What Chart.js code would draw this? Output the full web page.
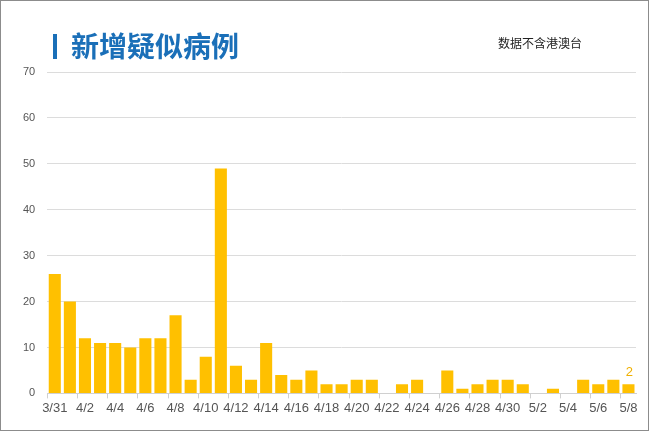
<!DOCTYPE html>
<html>
<head>
<meta charset="utf-8">
<script src="https://cdn.jsdelivr.net/npm/chart.js@4"></script>
<style>
  html, body { margin: 0; padding: 0; background: #fff; }
  #wrap { position: relative; width: 647px; height: 429px; border: 1px solid #8c8c8c; overflow: hidden; }
  #title { position: absolute; left: 52px; top: 26px; font: bold 28px "Noto Sans CJK SC", sans-serif; color: #1a6fb8; line-height: 36px; }
  #title .bar { display: inline-block; width: 4px; height: 25px; background: #1a6fb8; margin-right: 14px; vertical-align: -2px; }
  #note { position: absolute; left: 497px; top: 33px; font: 12px "Noto Sans CJK SC", sans-serif; color: #222; }
  canvas { position: absolute; left: 0; top: 0; }
</style>
</head>
<body>
<div id="wrap">
  <canvas id="c" width="647" height="429"></canvas>
  <div id="title"><span class="bar"></span>新增疑似病例</div>
  <div id="note">数据不含港澳台</div>
</div>
<script>
  const dates = ["3/31", "4/1", "4/2", "4/3", "4/4", "4/5", "4/6", "4/7", "4/8", "4/9", "4/10",
    "4/11", "4/12", "4/13", "4/14", "4/15", "4/16", "4/17", "4/18", "4/19", "4/20", "4/21",
    "4/22", "4/23", "4/24", "4/25", "4/26", "4/27", "4/28", "4/29", "4/30", "5/1", "5/2",
    "5/3", "5/4", "5/5", "5/6", "5/7", "5/8"];
  const suspected = [26, 20, 12, 11, 11, 10, 12, 12, 17, 3, 8,
    49, 6, 3, 11, 4, 3, 5, 2, 2, 3, 3,
    0, 2, 3, 0, 5, 1, 2, 3, 3, 2, 0,
    1, 0, 3, 2, 3, 2];
  const yTicks = [0, 10, 20, 30, 40, 50, 60, 70];

  // label on the last bar only
  const lastLabel = {
    id: "lastLabel",
    afterDatasetsDraw(chart) {
      const meta = chart.getDatasetMeta(0);
      const i = suspected.length - 1;
      const el = meta.data[i];
      const ctx = chart.ctx;
      ctx.save();
      ctx.fillStyle = "#f0b000";
      ctx.font = "13px 'Liberation Sans', sans-serif";
      ctx.textAlign = "center";
      ctx.textBaseline = "bottom";
      ctx.fillText(String(suspected[i]), el.x + 1, el.y - 5);
      ctx.restore();
    }
  };

  new Chart(document.getElementById("c"), {
    type: "bar",
    data: {
      labels: dates,
      datasets: [{ data: suspected, backgroundColor: "#ffc000", barPercentage: 0.8, categoryPercentage: 1 }]
    },
    options: {
      responsive: false,
      animation: false,
      layout: { padding: { top: 71, right: 12, left: 10, bottom: 12 } },
      plugins: { legend: { display: false }, tooltip: { enabled: false } },
      scales: {
        x: {
          grid: {
            drawOnChartArea: false,
            tickLength: 5,
            color: (c) => (c.index % 2 === 0 ? "#d0d0d0" : "rgba(0,0,0,0)")
          },
          border: { color: "#d0d0d0" },
          ticks: {
            autoSkip: false,
            maxRotation: 0,
            padding: 2,
            color: "#555",
            font: { size: 13, family: "'Liberation Sans', sans-serif" },
            callback: (v, i) => (i % 2 === 0 ? dates[i] : "")
          }
        },
        y: {
          min: yTicks[0],
          max: yTicks[yTicks.length - 1],
          afterBuildTicks: (axis) => { axis.ticks = yTicks.map(v => ({ value: v })); },
          grid: { color: "#dcdcdc", drawTicks: false },
          border: { display: false },
          ticks: { padding: 12, color: "#555", font: { size: 11, family: "'Liberation Sans', sans-serif" } }
        }
      }
    },
    plugins: [lastLabel]
  });
</script>
</body>
</html>
